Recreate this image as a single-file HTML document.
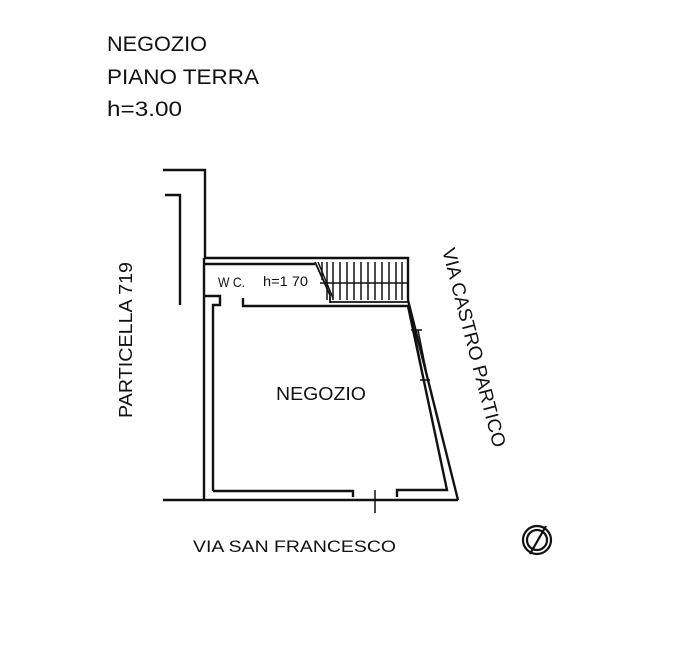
<!DOCTYPE html>
<html><head><meta charset="utf-8"><style>
html,body{margin:0;padding:0;background:#fff;}
svg{display:block;}
text{font-family:"Liberation Sans",sans-serif;fill:#111;}
</style></head><body>
<svg width="682" height="651" viewBox="0 0 682 651" xmlns="http://www.w3.org/2000/svg">
<rect width="682" height="651" fill="#fff"/>
<text x="107" y="51" font-size="21" textLength="100" lengthAdjust="spacingAndGlyphs">NEGOZIO</text>
<text x="107" y="84" font-size="21" textLength="152" lengthAdjust="spacingAndGlyphs">PIANO  TERRA</text>
<text x="107" y="116" font-size="21" textLength="75" lengthAdjust="spacingAndGlyphs">h=3.00</text>
<g fill="none" stroke="#111" stroke-width="2.4">
<polyline points="163,170 205,170 205,258 408,258 408,300"/>
<polyline points="165,195 180,195 180,305"/>
<line x1="204" y1="258" x2="204" y2="500"/>
<polyline points="205,264 315,264"/>
<polyline points="205,296 220,296 220,305 213,305 213,491"/>
<polyline points="243,298 243,306 408,306 447,490 397,490 397,497"/>
<polyline points="213,491 353,491 353,497"/>
<line x1="408" y1="300" x2="458" y2="500"/>
<line x1="163" y1="500" x2="458" y2="500"/>
<line x1="375" y1="490" x2="375" y2="513" stroke-width="1.5"/>
<line x1="411" y1="330" x2="422" y2="330" stroke-width="1.5"/>
<line x1="414" y1="330" x2="424" y2="380" stroke-width="1.5"/>
<line x1="418" y1="330" x2="428" y2="380" stroke-width="1.5"/>
<line x1="420" y1="380" x2="430" y2="380" stroke-width="1.5"/>
<polyline points="315,262 330,295 330,303" stroke-width="1.8"/>
<line x1="318" y1="262" x2="333" y2="298" stroke-width="1.5"/>
<line x1="320" y1="283" x2="408" y2="283" stroke-width="1.5"/>
<line x1="330" y1="302" x2="408" y2="302" stroke-width="1.8"/>
</g>
<g stroke="#111" stroke-width="1.5">
<line x1="322" y1="262" x2="322" y2="280"/>
<line x1="327" y1="262" x2="327" y2="300"/>
<line x1="333" y1="262" x2="333" y2="300"/>
<line x1="340" y1="262" x2="340" y2="300"/>
<line x1="347" y1="262" x2="347" y2="300"/>
<line x1="354" y1="262" x2="354" y2="300"/>
<line x1="361" y1="262" x2="361" y2="300"/>
<line x1="368" y1="262" x2="368" y2="300"/>
<line x1="375" y1="262" x2="375" y2="300"/>
<line x1="382" y1="262" x2="382" y2="300"/>
<line x1="389" y1="262" x2="389" y2="300"/>
<line x1="396" y1="262" x2="396" y2="300"/>
<line x1="402" y1="262" x2="402" y2="300"/>
</g>
<text x="218" y="287" font-size="14" textLength="27" lengthAdjust="spacingAndGlyphs">W C.</text>
<text x="263" y="286" font-size="14" textLength="45" lengthAdjust="spacingAndGlyphs">h=1 70</text>
<text x="276" y="400" font-size="18" textLength="90" lengthAdjust="spacingAndGlyphs">NEGOZIO</text>
<text x="0" y="0" font-size="18" textLength="156" lengthAdjust="spacingAndGlyphs" transform="translate(132,418) rotate(-90)">PARTICELLA 719</text>
<text x="0" y="0" font-size="19" textLength="205" lengthAdjust="spacingAndGlyphs" transform="translate(442,250) rotate(75.4)">VIA CASTRO PARTICO</text>
<text x="193" y="552" font-size="17" textLength="203" lengthAdjust="spacingAndGlyphs">VIA SAN FRANCESCO</text>
<g fill="none" stroke="#111" stroke-width="2.2">
<circle cx="537" cy="540" r="14"/>
<circle cx="537" cy="540" r="10"/>
<line x1="530" y1="554" x2="546" y2="526"/>
</g>
</svg>
</body></html>
